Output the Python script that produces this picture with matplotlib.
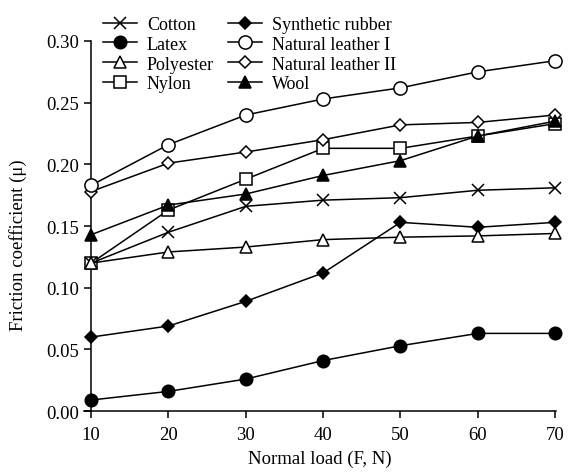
import matplotlib.pyplot as plt

plt.rcParams['font.family'] = ['Liberation Serif', 'DejaVu Serif']

# normal load (N)
load = [10, 20, 30, 40, 50, 60, 70]

# friction coefficients
cotton = [0.120, 0.145, 0.166, 0.171, 0.173, 0.179, 0.181]
latex = [0.009, 0.016, 0.026, 0.041, 0.053, 0.063, 0.063]
polyester = [0.120, 0.129, 0.133, 0.139, 0.141, 0.142, 0.144]
nylon = [0.120, 0.163, 0.188, 0.213, 0.213, 0.223, 0.233]
synthetic_rubber = [0.060, 0.069, 0.089, 0.112, 0.153, 0.149, 0.153]
leather_1 = [0.183, 0.216, 0.240, 0.253, 0.262, 0.275, 0.284]
leather_2 = [0.178, 0.201, 0.210, 0.220, 0.232, 0.234, 0.240]
wool = [0.143, 0.167, 0.176, 0.191, 0.203, 0.223, 0.235]

fig = plt.figure(figsize=(5.69, 4.77), dpi=100)
ax = fig.add_axes([0.148, 0.136, 0.829, 0.776])

kw = dict(color='black', linewidth=1.1, markeredgewidth=1.1, clip_on=False)
ax.plot(load, cotton, marker='x', ms=9, label='Cotton', zorder=3, **kw)
ax.plot(load, latex, marker='o', ms=9, label='Latex', zorder=3, **kw)
ax.plot(load, polyester, marker='^', ms=9, mfc='white', label='Polyester', zorder=4, **kw)
ax.plot(load, nylon, marker='s', ms=9, mfc='white', label='Nylon', zorder=2, **kw)
ax.plot(load, synthetic_rubber, marker='D', ms=6.5, label='Synthetic rubber', zorder=3, **kw)
ax.plot(load, leather_1, marker='o', ms=9.5, mfc='white', label='Natural leather I', zorder=4, **kw)
ax.plot(load, leather_2, marker='D', ms=6.5, mfc='white', label='Natural leather II', zorder=3, **kw)
ax.plot(load, wool, marker='^', ms=9, label='Wool', zorder=4, **kw)

ax.set_xlim(9.1, 70.1)
ax.set_ylim(0, 0.30)
ax.set_xticks(load)
ax.set_yticks([0, 0.05, 0.10, 0.15, 0.20, 0.25, 0.30])
ax.set_yticklabels(['0.00', '0.05', '0.10', '0.15', '0.20', '0.25', '0.30'])

ax.spines['top'].set_visible(False)
ax.spines['right'].set_visible(False)
ax.spines['left'].set_position(('data', 10))
ax.spines['left'].set_linewidth(1.1)
ax.spines['bottom'].set_linewidth(1.1)
ax.tick_params(direction='out', length=5, width=1.1, labelsize=13.5)
ax.tick_params(axis='x', pad=6)

ax.set_xlabel('Normal load (F, N)', fontsize=13.5)
ax.set_ylabel('Friction coefficient (μ)', fontsize=13.5)
ax.xaxis.set_label_coords(0.5, -0.105)
ax.yaxis.set_label_coords(-0.122, 0.45)

fig.legend(loc='upper left', bbox_to_anchor=(0.155, 0.995), ncol=2, frameon=False,
           fontsize=13, handlelength=1.9, handletextpad=0.55, columnspacing=0.75,
           labelspacing=0.16, borderpad=0.3)

fig.savefig('out.png', dpi=100)
